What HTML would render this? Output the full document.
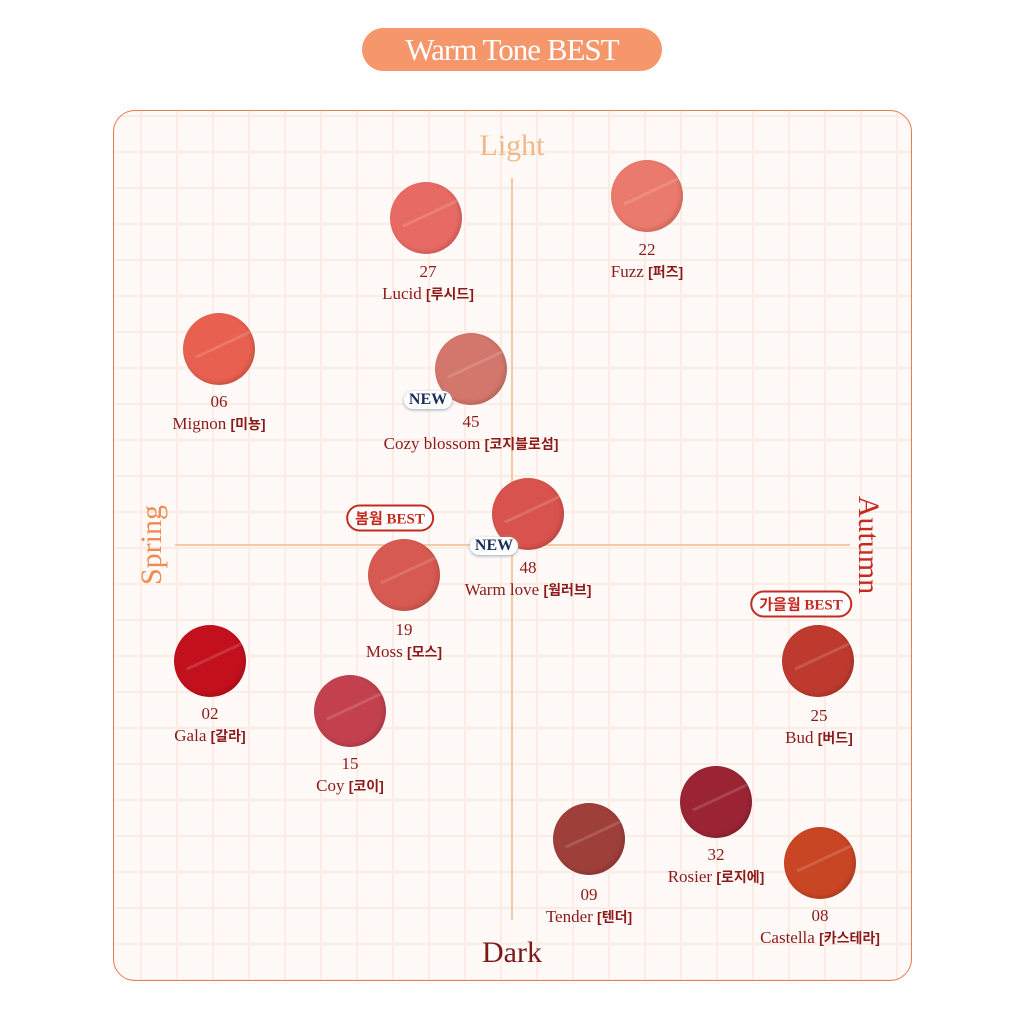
<!DOCTYPE html>
<html><head><meta charset="utf-8"><style>
body{margin:0;width:1024px;height:1024px;background:#fff;position:relative;overflow:hidden;font-family:"Liberation Serif","Noto Serif CJK SC",serif}
.title{position:absolute;left:362px;top:28px;width:300px;height:43px;border-radius:22px;background:#f5976b;color:#fff;font-size:31px;text-align:center;line-height:43px;letter-spacing:-1px;font-weight:300}
.card{position:absolute;left:113px;top:110px;width:797px;height:869px;border:1.5px solid #ea7a50;border-radius:22px;background-color:#fffaf7;
background-image:linear-gradient(#fcece4 2px,transparent 2px),linear-gradient(90deg,#fcece4 2px,transparent 2px);background-size:36px 36px;background-position:-10px 4px}
.ax{position:absolute;background:#f3c9a6}
.c{position:absolute;width:72px;height:72px;border-radius:50%;margin:-36px 0 0 -36px;box-shadow:inset -2px -2px 4px rgba(0,0,0,.15)}
.c::after{content:"";position:absolute;left:10px;top:30px;width:60px;height:3px;background:rgba(255,255,255,.15);transform:rotate(-25deg)}
.l{position:absolute;transform:translateX(-50%);color:#8d1a1a;font-size:17px;text-align:center;white-space:nowrap;line-height:22px}
.k{font-family:"Liberation Sans","Noto Sans CJK KR",sans-serif;font-weight:bold;font-size:14px}
.new{position:absolute;transform:translate(-50%,-50%);background:#fff;border-radius:12px;padding:0 5px;font-weight:bold;color:#1b2d5a;font-size:16px;box-shadow:0 1px 3px #9ab}
.bub{position:absolute;transform:translate(-50%,-50%);border:2px solid #c42a20;border-radius:14px;background:#fff;color:#c42a20;font-weight:bold;font-size:15px;padding:1px 7px;white-space:nowrap;font-family:"Liberation Serif","Noto Sans CJK KR",serif}
</style></head><body>
<div class="title">Warm Tone BEST</div>
<div class="card"></div>
<div class="ax" style="left:511px;top:178px;width:2px;height:742px"></div>
<div class="ax" style="left:175px;top:544px;width:675px;height:2px"></div>
<div style="position:absolute;left:512px;top:146px;transform:translate(-50%,-50%);color:#f0b888;font-size:30px">Light</div>
<div style="position:absolute;left:512px;top:953px;transform:translate(-50%,-50%);color:#7a1a1a;font-size:30px">Dark</div>
<div style="position:absolute;left:152px;top:545px;transform:translate(-50%,-50%) rotate(-90deg);color:#f08a50;font-size:30px">Spring</div>
<div style="position:absolute;left:868px;top:545px;transform:translate(-50%,-50%) rotate(90deg);color:#c42a20;font-size:30px">Autumn</div>

<div class="c" style="left:426px;top:218px;background:#e86a64"></div><div class="l" style="left:428px;top:261px">27<br>Lucid <span class="k">[루시드]</span></div>
<div class="c" style="left:647px;top:196px;background:#ea7a6c"></div><div class="l" style="left:647px;top:239px">22<br>Fuzz <span class="k">[퍼즈]</span></div>
<div class="c" style="left:219px;top:349px;background:#e8604f"></div><div class="l" style="left:219px;top:391px">06<br>Mignon <span class="k">[미뇽]</span></div>
<div class="c" style="left:471px;top:369px;background:#d3766c"></div><div class="l" style="left:471px;top:411px">45<br>Cozy blossom <span class="k">[코지블로섬]</span></div>
<div class="new" style="left:428px;top:400px">NEW</div>
<div class="c" style="left:528px;top:514px;background:#d9534e"></div><div class="l" style="left:528px;top:557px">48<br>Warm love <span class="k">[웜러브]</span></div>
<div class="new" style="left:494px;top:546px">NEW</div>
<div class="c" style="left:404px;top:575px;background:#d65a52"></div><div class="l" style="left:404px;top:619px">19<br>Moss <span class="k">[모스]</span></div>
<div class="bub" style="left:390px;top:518px">봄웜 BEST</div>
<div class="c" style="left:210px;top:661px;background:#c3101d"></div><div class="l" style="left:210px;top:703px">02<br>Gala <span class="k">[갈라]</span></div>
<div class="c" style="left:350px;top:711px;background:#c3404f"></div><div class="l" style="left:350px;top:753px">15<br>Coy <span class="k">[코이]</span></div>
<div class="c" style="left:818px;top:661px;background:#bf3a2e"></div><div class="l" style="left:819px;top:705px">25<br>Bud <span class="k">[버드]</span></div>
<div class="bub" style="left:801px;top:604px">가을웜 BEST</div>
<div class="c" style="left:716px;top:802px;background:#9b2434"></div><div class="l" style="left:716px;top:844px">32<br>Rosier <span class="k">[로지에]</span></div>
<div class="c" style="left:589px;top:839px;background:#9e3f3a"></div><div class="l" style="left:589px;top:884px">09<br>Tender <span class="k">[텐더]</span></div>
<div class="c" style="left:820px;top:863px;background:#c84624"></div><div class="l" style="left:820px;top:905px">08<br>Castella <span class="k">[카스테라]</span></div>
</body></html>
